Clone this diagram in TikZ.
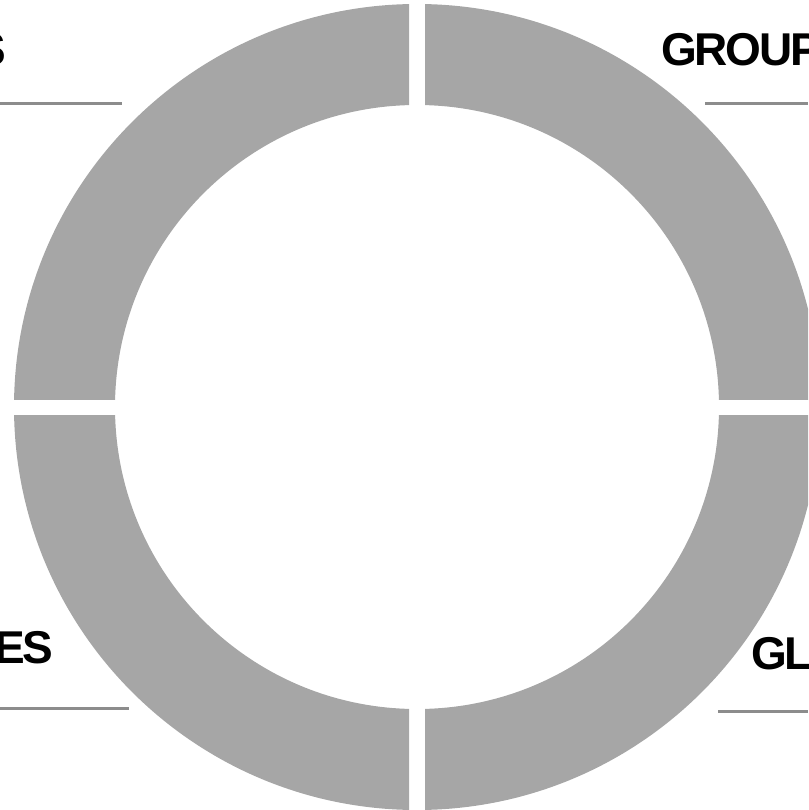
\documentclass[tikz,border=0pt]{standalone}
\usepackage{fontspec}
\setmainfont{Liberation Sans}[LetterSpace=-5]
\usepackage{tikz}

\begin{document}
\begin{tikzpicture}[x=1pt, y=-1pt, thick,
  ring/.style={fill=gray!70, even odd rule},
  tag/.style={inner sep=0pt, font=\fontsize{46}{50}\selectfont\bfseries},
  rule/.style={draw=gray!90, line width=3pt}]

  \useasboundingbox (0,0) rectangle (808,810);
  \clip (0,0) rectangle (808,810);

  % four quarters of the ring, cut apart by a gap
  \foreach \sx/\sy in {1/1, 1/-1, -1/1, -1/-1} {
    \begin{scope}
      \clip (417+\sx*8, 407+\sy*8) rectangle ++(\sx*430, \sy*430);
      \fill[ring] (417,407) circle (403) (417,407) circle (302);
    \end{scope}
  }

  % labels
  \node[tag, anchor=base east] (tl) at (7,66) {S};
  \node[tag, anchor=base west] (tr) at (661,66) {GROUP};
  \node[tag, anchor=base east] (bl) at (54,663) {ES};
  \node[tag, anchor=base west] (br) at (751,669) {GL};

  % rules under the labels
  \coordinate (tlA) at (0,104);   \coordinate (tlB) at (122,104);
  \coordinate (trA) at (705,104); \coordinate (trB) at (808,104);
  \coordinate (blA) at (0,708);   \coordinate (blB) at (129,708);
  \coordinate (brA) at (718,711); \coordinate (brB) at (808,711);

  \draw[rule] (tlA) -- (tlB);
  \draw[rule] (trA) -- (trB);
  \draw[rule] (blA) -- (blB);
  \draw[rule] (brA) -- (brB);

\end{tikzpicture}
\end{document}
